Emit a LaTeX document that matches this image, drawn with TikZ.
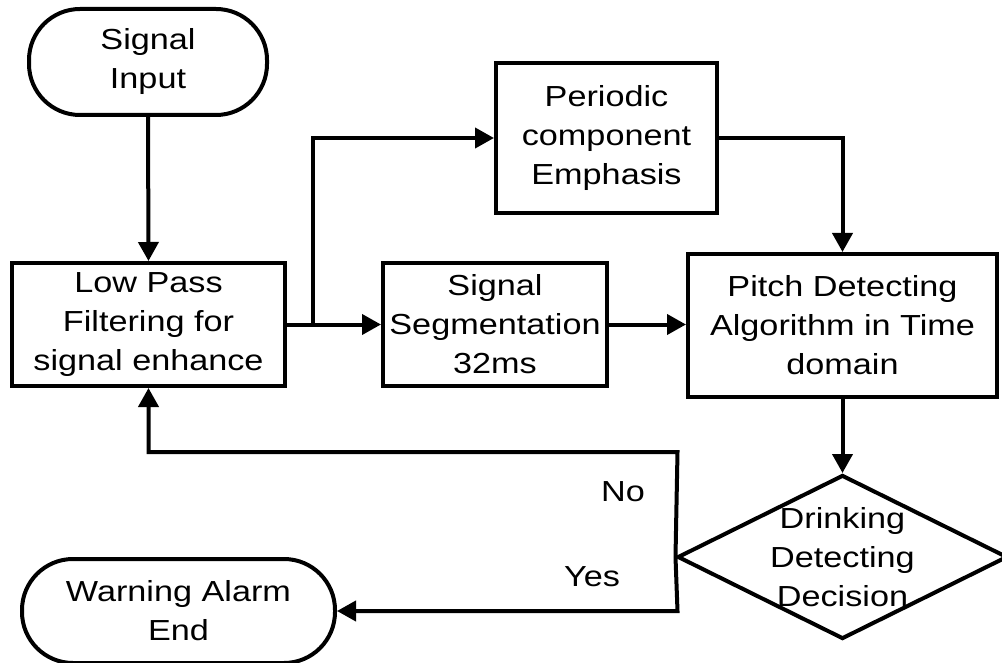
\documentclass[tikz,border=0pt]{standalone}
\usepackage{fontspec}
\setmainfont{Liberation Sans}[FakeStretch=1.18]
\usetikzlibrary{arrows.meta,shapes.geometric}
\begin{document}
\begin{tikzpicture}[x=1pt,y=-1pt,
  txt/.style={align=center, inner sep=0pt, font=\fontsize{29}{39}\selectfont},
  box/.style={txt, draw, line width=4pt},
  term/.style={box, rounded corners=51pt},
  arr/.style={line width=4pt, -{Triangle[length=19pt,width=20pt]}}]
\useasboundingbox (0,0) rectangle (1002,663);
\node[term, minimum width=238pt, minimum height=106pt] (sig) at (148,62) {Signal\\Input};
\node[box, minimum width=273pt, minimum height=123pt] (lpf) at (148.5,324.5) {Low Pass\\Filtering for\\signal enhance};
\node[box, minimum width=224pt, minimum height=123pt] (seg) at (495,324.5) {Signal\\Segmentation\\32ms};
\node[box, minimum width=221pt, minimum height=150pt] (per) at (606.5,138) {Periodic\\component\\Emphasis};
\node[box, minimum width=309pt, minimum height=143pt] (pit) at (842.5,325.5) {Pitch Detecting\\Algorithm in Time\\domain};
\node[diamond, draw, line width=4pt, inner sep=0pt, minimum width=330pt, minimum height=164pt] (dec) at (842.5,557) {};
\node[txt] (dect) at (dec.center) {Drinking\\Detecting\\Decision};
\node[term, minimum width=313pt, minimum height=104pt] (warn) at (178.5,611) {Warning Alarm\\End};
\node[txt] (no) at (623,492) {No};
\node[txt] (yes) at (592,577) {Yes};
\coordinate (j) at (313,324.5);
\coordinate (nc) at (677.5,452);
\coordinate (yc) at (677.5,611);
\draw[arr] (sig.south) -- (lpf.north);
\draw[arr] (lpf.east) -- (seg.west);
\draw[arr] (j) |- (per.west);
\draw[arr] (per.east) -| (pit.north);
\draw[arr] (seg.east) -- (seg.east -| pit.west);
\draw[arr] (pit.south) -- (dec.north);
\draw[arr] (dec.west) -- (nc) -| (lpf.south);
\draw[arr] (dec.west) -- (yc) -- (warn.east);
\end{tikzpicture}
\end{document}
